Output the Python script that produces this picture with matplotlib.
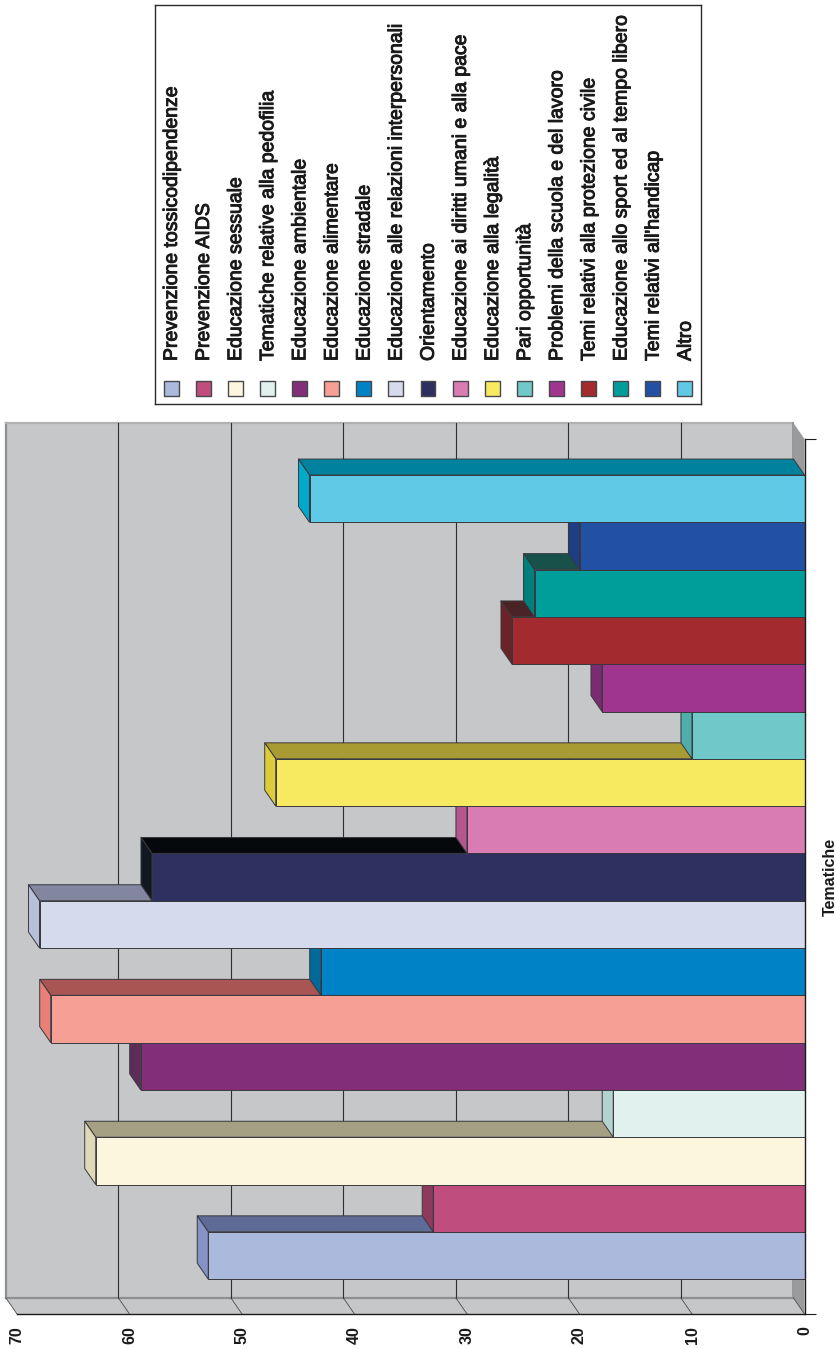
import matplotlib
matplotlib.use("Agg")
import matplotlib.pyplot as plt
import matplotlib.patheffects as pe
from matplotlib.patches import Polygon, Rectangle

plt.rcParams['font.family'] = ['Liberation Sans', 'DejaVu Sans']

#### data
temi = ["Prevenzione tossicodipendenze", "Prevenzione AIDS", "Educazione sessuale",
        "Tematiche relative alla pedofilia", "Educazione ambientale", "Educazione alimentare",
        "Educazione stradale", "Educazione alle relazioni interpersonali", "Orientamento",
        "Educazione ai diritti umani e alla pace", "Educazione alla legalità", "Pari opportunità",
        "Problemi della scuola e del lavoro", "Temi relativi alla protezione civile",
        "Educazione allo sport ed al tempo libero", "Temi relativi all'handicap", "Altro"]
valori = [53, 33, 63, 17, 59, 67, 43, 68, 58, 30, 47, 10, 18, 26, 24, 20, 44]
griglia = [0, 10, 20, 30, 40, 50, 60, 70]

# front, top and side colour of each box
fronte = ["#abb9dd", "#bf4e7d", "#fcf6df", "#e0f1ee", "#822e78", "#f69f95", "#0083c6", "#d5dbec", "#2e3060",
          "#d87cb3", "#f8ea60", "#70c9c8", "#9f358e", "#a32a2e", "#009e9b", "#2250a3", "#60cae6"]
sopra = ["#5f6b97", "#8c3a5c", "#a5a084", "#a4c6c2", "#5e2c58", "#a95553", "#006a9a", "#82869f", "#05090b",
         "#a04f80", "#a99b33", "#4fadab", "#6f2a68", "#4a2326", "#18504a", "#1d3e85", "#00829f"]
lato = ["#8492c6", "#8f3a5d", "#dfd9b8", "#b3d3cf", "#5e2c58", "#e98078", "#006a9a", "#b8bfd8", "#111820",
        "#b5568f", "#dccc3c", "#4fadab", "#7a2b72", "#6a2428", "#007f7d", "#1d3e85", "#00a9c9"]

W, H = 837, 1349
BORDO = "#38383e"

fig = plt.figure(figsize=(W / 100, H / 100), dpi=100)

#### chart, turned on its side: front plane of the box
ax = fig.add_axes([17 / W, 1 - 1314 / H, 787.5 / W, 875 / H])
ax.patch.set_visible(False)
ax.set_xlim(70, 0)
y0, y1 = -1.237, 17.262
ax.set_ylim(y0, y1)

# depth of the fake 3D, in data units
DX, DY = 0.98, 0.338

parete = "#c6c7c9"
ax.add_patch(Polygon([(0 + DX, y0 + DY), (70 + DX, y0 + DY), (70 + DX, y1 + DY), (0 + DX, y1 + DY)],
                     fc=parete, ec="none", zorder=1, clip_on=False))
ax.add_patch(Polygon([(0, y0), (70, y0), (70 + DX, y0 + DY), (0 + DX, y0 + DY)],
                     fc=parete, ec="none", zorder=1, clip_on=False))
ax.add_patch(Polygon([(0, y0), (0, y1), (0 + DX, y1 + DY), (0 + DX, y0 + DY)],
                     fc="#9a9b9d", ec="none", zorder=1, clip_on=False))

# wall edges
ax.plot([70 + DX, 70 + DX], [y0 + DY, y1 + DY], color="#8e8f91", lw=1.6, zorder=2, clip_on=False)
ax.plot([70 + DX, 0 + DX], [y1 + DY, y1 + DY], color="#b0b1b3", lw=1.6, zorder=2, clip_on=False)
ax.plot([70 + DX, 0 + DX], [y0 + DY, y0 + DY], color="#8e8f91", lw=1.6, zorder=2, clip_on=False)
ax.plot([0 + DX, 0 + DX], [y0 + DY, y1 + DY], color="#8e8f91", lw=1.2, zorder=2, clip_on=False)

# gridlines on wall and floor
for g in griglia:
    if 0 < g < 70:
        ax.plot([g + DX, g + DX], [y0 + DY, y1 + DY], color="#2f2f33", lw=0.8, zorder=2, clip_on=False)
    ax.plot([g + DX, g], [y0 + DY, y0], color="#4a4a4e", lw=0.6, zorder=2, clip_on=False)

# boxes go back to front so each one hides the top of the previous
for i, v in enumerate(valori):
    z = 3 + i
    alto = i + 0.5
    basso = i - 0.5
    ax.add_patch(Polygon([(0, alto), (v, alto), (v + DX, alto + DY), (0 + DX, alto + DY)],
                         fc=sopra[i], ec=BORDO, lw=0.7, zorder=z, joinstyle="round", clip_on=False))
    ax.add_patch(Polygon([(v, basso), (v, alto), (v + DX, alto + DY), (v + DX, basso + DY)],
                         fc=lato[i], ec=BORDO, lw=0.7, zorder=z, joinstyle="round", clip_on=False))
    ax.barh(i, v, height=1, color=fronte[i], edgecolor=BORDO, linewidth=0.7, zorder=z + 0.5)

for s in ["top", "left"]:
    ax.spines[s].set_visible(False)
for s in ["bottom", "right"]:
    ax.spines[s].set_color("#1c1c1e")
    ax.spines[s].set_linewidth(1.0)
    ax.spines[s].set_zorder(40)

ax.set_xticks(griglia)
ax.set_xticklabels(griglia, rotation=90, fontsize=11.5, fontweight="bold", color="#1a1a1a")
ax.tick_params(axis="x", length=0, pad=9)

ax.yaxis.tick_right()
ax.set_yticks([y0, y1])
ax.set_yticklabels(["", ""])
ax.tick_params(axis="y", length=8, width=0.8, color="#1c1c1e")
ax.yaxis.set_label_position("right")
ax.set_ylabel("Tematiche", rotation=90, fontsize=11.5, fontweight="bold", color="#1a1a1a", labelpad=2)

#### legend
lg = fig.add_axes([155 / W, 1 - 404 / H, 546 / W, 399 / H])
lg.set_xlim(-0.5, 16.5)
lg.set_ylim(0, 399)
lg.set_xticks([])
lg.set_yticks([])
for s in lg.spines.values():
    s.set_color("#2b2b2f")
    s.set_linewidth(1.0)

for i, nome in enumerate(temi):
    lg.add_patch(Rectangle((i - 0.233, 8), 0.466, 15, fc=fronte[i], ec="#48484c", lw=1.0))
    t = lg.text(i + 0.04, 43, nome, rotation=90, ha="center", va="bottom", fontsize=14, color="#1a1a1a")
    # slightly heavier than the regular weight
    t.set_path_effects([pe.withStroke(linewidth=0.7, foreground="#1a1a1a")])

fig.savefig("out.png", dpi=100)
